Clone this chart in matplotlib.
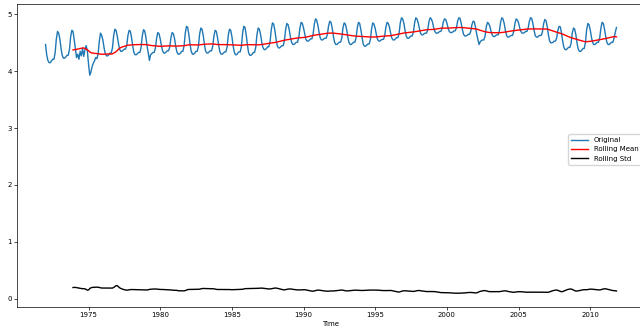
import numpy as np
import pandas as pd
import matplotlib
matplotlib.use("Agg")
import matplotlib.pyplot as plt
import matplotlib.dates as mdates

# monthly log values, one row per year (Jan..Dec), Jan 1972 - Nov 2011
y1972 = [4.47, 4.28, 4.19, 4.15, 4.15, 4.18, 4.21, 4.21, 4.32, 4.56, 4.70, 4.67]
y1973 = [4.56, 4.39, 4.28, 4.23, 4.23, 4.25, 4.28, 4.28, 4.38, 4.60, 4.72, 4.70]
y1974 = [4.55, 4.38, 4.24, 4.30, 4.21, 4.35, 4.27, 4.40, 4.26, 4.38, 4.45, 4.36]
y1975 = [4.12, 3.93, 3.98, 4.08, 4.14, 4.18, 4.24, 4.22, 4.30, 4.52, 4.67, 4.63]
y1976 = [4.55, 4.41, 4.31, 4.27, 4.27, 4.29, 4.32, 4.32, 4.41, 4.62, 4.74, 4.72]
y1977 = [4.62, 4.49, 4.39, 4.35, 4.35, 4.37, 4.39, 4.39, 4.46, 4.63, 4.72, 4.70]
y1978 = [4.59, 4.44, 4.33, 4.29, 4.29, 4.31, 4.33, 4.33, 4.42, 4.62, 4.73, 4.71]
y1979 = [4.60, 4.44, 4.33, 4.19, 4.29, 4.31, 4.33, 4.33, 4.41, 4.58, 4.68, 4.66]
y1980 = [4.57, 4.45, 4.36, 4.32, 4.32, 4.34, 4.36, 4.36, 4.43, 4.59, 4.68, 4.66]
y1981 = [4.57, 4.43, 4.34, 4.30, 4.30, 4.32, 4.35, 4.35, 4.45, 4.67, 4.79, 4.77]
y1982 = [4.64, 4.47, 4.35, 4.30, 4.30, 4.32, 4.35, 4.35, 4.44, 4.65, 4.76, 4.74]
y1983 = [4.63, 4.47, 4.36, 4.32, 4.32, 4.34, 4.36, 4.36, 4.44, 4.62, 4.72, 4.70]
y1984 = [4.59, 4.45, 4.34, 4.30, 4.30, 4.32, 4.34, 4.34, 4.43, 4.63, 4.74, 4.72]
y1985 = [4.61, 4.45, 4.34, 4.29, 4.29, 4.32, 4.34, 4.34, 4.44, 4.67, 4.79, 4.77]
y1986 = [4.64, 4.46, 4.33, 4.28, 4.28, 4.30, 4.33, 4.33, 4.42, 4.64, 4.76, 4.74]
y1987 = [4.65, 4.51, 4.42, 4.38, 4.38, 4.40, 4.43, 4.43, 4.52, 4.73, 4.85, 4.83]
y1988 = [4.72, 4.56, 4.45, 4.41, 4.41, 4.43, 4.45, 4.45, 4.54, 4.73, 4.84, 4.82]
y1989 = [4.73, 4.60, 4.51, 4.47, 4.47, 4.49, 4.51, 4.51, 4.59, 4.76, 4.86, 4.84]
y1990 = [4.76, 4.65, 4.56, 4.53, 4.53, 4.55, 4.57, 4.57, 4.65, 4.82, 4.92, 4.90]
y1991 = [4.81, 4.68, 4.59, 4.55, 4.55, 4.57, 4.58, 4.58, 4.65, 4.80, 4.88, 4.86]
y1992 = [4.76, 4.61, 4.51, 4.47, 4.47, 4.49, 4.51, 4.51, 4.58, 4.76, 4.85, 4.83]
y1993 = [4.74, 4.60, 4.51, 4.47, 4.47, 4.49, 4.51, 4.51, 4.59, 4.76, 4.86, 4.84]
y1994 = [4.73, 4.59, 4.48, 4.44, 4.44, 4.46, 4.48, 4.48, 4.56, 4.75, 4.85, 4.83]
y1995 = [4.75, 4.64, 4.56, 4.53, 4.53, 4.55, 4.56, 4.56, 4.63, 4.78, 4.86, 4.84]
y1996 = [4.77, 4.66, 4.58, 4.55, 4.55, 4.57, 4.59, 4.59, 4.67, 4.85, 4.94, 4.92]
y1997 = [4.84, 4.71, 4.62, 4.58, 4.58, 4.60, 4.62, 4.62, 4.69, 4.85, 4.94, 4.92]
y1998 = [4.85, 4.75, 4.67, 4.64, 4.64, 4.66, 4.67, 4.67, 4.73, 4.87, 4.94, 4.92]
y1999 = [4.86, 4.76, 4.70, 4.67, 4.67, 4.68, 4.70, 4.70, 4.75, 4.86, 4.92, 4.91]
y2000 = [4.85, 4.76, 4.70, 4.68, 4.68, 4.69, 4.71, 4.71, 4.76, 4.88, 4.94, 4.93]
y2001 = [4.84, 4.73, 4.65, 4.62, 4.62, 4.63, 4.65, 4.65, 4.70, 4.82, 4.88, 4.87]
y2002 = [4.77, 4.65, 4.56, 4.47, 4.52, 4.54, 4.55, 4.55, 4.62, 4.78, 4.86, 4.84]
y2003 = [4.79, 4.70, 4.64, 4.61, 4.61, 4.63, 4.64, 4.64, 4.71, 4.86, 4.94, 4.92]
y2004 = [4.84, 4.72, 4.63, 4.60, 4.60, 4.62, 4.63, 4.63, 4.70, 4.84, 4.92, 4.90]
y2005 = [4.85, 4.76, 4.70, 4.67, 4.67, 4.68, 4.70, 4.70, 4.75, 4.87, 4.94, 4.93]
y2006 = [4.84, 4.72, 4.63, 4.60, 4.60, 4.62, 4.63, 4.63, 4.69, 4.83, 4.91, 4.89]
y2007 = [4.79, 4.64, 4.54, 4.50, 4.50, 4.51, 4.53, 4.53, 4.59, 4.72, 4.79, 4.78]
y2008 = [4.67, 4.52, 4.42, 4.38, 4.38, 4.40, 4.42, 4.42, 4.49, 4.67, 4.76, 4.74]
y2009 = [4.64, 4.49, 4.39, 4.35, 4.35, 4.37, 4.40, 4.40, 4.50, 4.72, 4.84, 4.82]
y2010 = [4.73, 4.60, 4.51, 4.47, 4.47, 4.49, 4.51, 4.51, 4.59, 4.76, 4.86, 4.84]
y2011 = [4.74, 4.61, 4.51, 4.47, 4.47, 4.49, 4.51, 4.51, 4.58, 4.68, 4.77]

rows = [y1972, y1973, y1974, y1975, y1976, y1977, y1978, y1979, y1980, y1981,
        y1982, y1983, y1984, y1985, y1986, y1987, y1988, y1989, y1990, y1991,
        y1992, y1993, y1994, y1995, y1996, y1997, y1998, y1999, y2000, y2001,
        y2002, y2003, y2004, y2005, y2006, y2007, y2008, y2009, y2010, y2011]
values = np.concatenate(rows)
idx = pd.date_range("1972-01-01", periods=len(values), freq="MS")
ts = pd.Series(values, index=idx)

window = 24
rolmean = ts.rolling(window).mean()
rolstd = ts.rolling(window).std()

fig = plt.figure(figsize=(6.4, 3.31), dpi=100)
ax = fig.add_axes([17 / 640, 24 / 331, 628 / 640, 303 / 331])

ax.plot(ts.index, ts.values, color="#1f77b4", lw=1.0, label="Original")
ax.plot(rolmean.index, rolmean.values, color="red", lw=1.0, label="Rolling Mean")
ax.plot(rolstd.index, rolstd.values, color="black", lw=1.0, label="Rolling Std")

ax.xaxis.set_major_locator(mdates.YearLocator(5))
ax.xaxis.set_major_formatter(mdates.DateFormatter("%Y"))
ax.tick_params(labelsize=5, length=2, width=0.5, pad=1.5)
for s in ax.spines.values():
    s.set_linewidth(0.5)
ax.set_xlabel("Time", fontsize=5, labelpad=2)
ax.legend(loc="center right", bbox_to_anchor=(1, 0.52), fontsize=5, handlelength=2.5)

fig.savefig("out.png", dpi=100)
